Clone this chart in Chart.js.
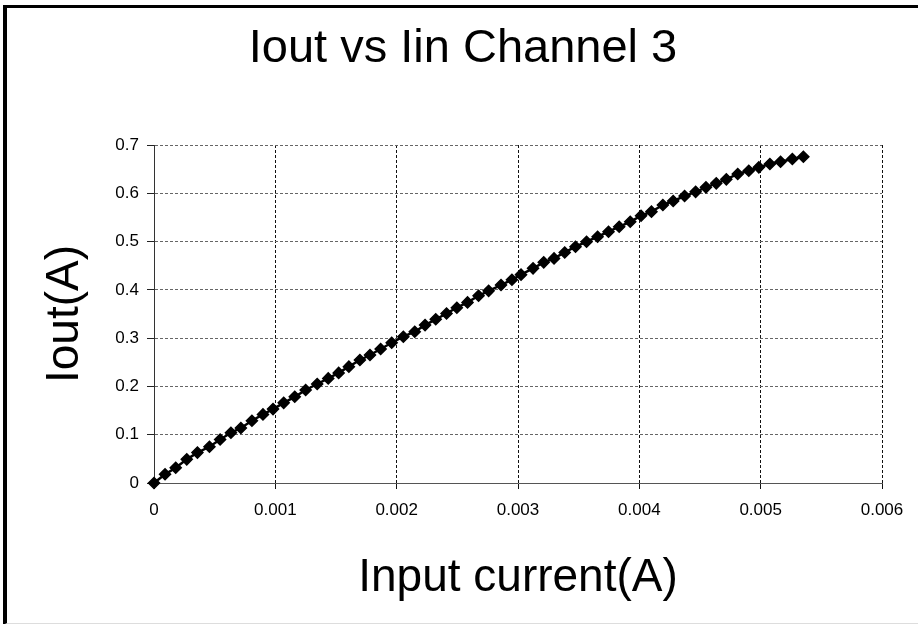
<!DOCTYPE html>
<html>
<head>
<meta charset="utf-8">
<script src="https://cdn.jsdelivr.net/npm/chart.js@4.4.1/dist/chart.umd.min.js"></script>
<style>
  html, body { margin: 0; padding: 0; background: #fff; overflow: hidden; }
  #frame {
    position: absolute; left: 3px; top: 5px; width: 940px; height: 615px;
    border-top: 3px solid #000; border-left: 4px solid #000; border-bottom: 2px solid #ddd;
    pointer-events: none;
  }
  #chart { position: absolute; left: 0; top: 0; }
</style>
</head>
<body>
<canvas id="chart" width="918" height="624"></canvas>
<div id="frame"></div>
<script>
// input current (A)
const inputCurrent = [
  0, 0.000091, 0.000179, 0.00027, 0.000358, 0.000457, 0.000545, 0.000634, 0.000716, 0.000807,
  0.000898, 0.000981, 0.001069, 0.00116, 0.00125, 0.001345, 0.001436, 0.001522, 0.001606, 0.001697,
  0.00178, 0.001868, 0.001959, 0.002055, 0.002149, 0.002234, 0.002322, 0.002411, 0.002496, 0.002584,
  0.002675, 0.002758, 0.00286, 0.00295, 0.003025, 0.003124, 0.003212, 0.003297, 0.003385, 0.003474,
  0.003565, 0.003656, 0.003746, 0.003834, 0.003925, 0.004014, 0.0041, 0.004194, 0.004279, 0.004373,
  0.004464, 0.004549, 0.004634, 0.004717, 0.004811, 0.004902, 0.004985, 0.005076, 0.005164, 0.005261,
  0.005352
];
// output current (A)
const outputCurrent = [
  0, 0.018, 0.0315, 0.049, 0.063, 0.075, 0.09, 0.104, 0.114, 0.129,
  0.142, 0.153, 0.166, 0.1785, 0.1926, 0.205, 0.2166, 0.228, 0.2409, 0.2547,
  0.2651, 0.2775, 0.2905, 0.303, 0.3133, 0.327, 0.339, 0.351, 0.363, 0.374,
  0.3877, 0.398, 0.41, 0.421, 0.4315, 0.4446, 0.457, 0.4651, 0.4775, 0.4893,
  0.4997, 0.51, 0.5204, 0.5308, 0.541, 0.5535, 0.562, 0.5757, 0.584, 0.5943,
  0.603, 0.6123, 0.6206, 0.6289, 0.64, 0.6467, 0.6537, 0.6606, 0.6654, 0.671,
  0.6757
];
const xTicks = [0, 0.001, 0.002, 0.003, 0.004, 0.005, 0.006];
const yTicks = [0, 0.1, 0.2, 0.3, 0.4, 0.5, 0.6, 0.7];

const fontFamily = "'Liberation Sans', Arial, sans-serif";
const fmt = (v) => String(Math.round(v * 1000) / 1000);

const points = inputCurrent.map((x, i) => ({ x: x, y: outputCurrent[i] }));

new Chart(document.getElementById("chart"), {
  type: "scatter",
  data: {
    datasets: [
      {
        data: points,
        showLine: true,
        clip: false,
        borderColor: "#000",
        borderWidth: 2.5,
        pointStyle: "rectRot",
        pointRadius: 5.5,
        pointBackgroundColor: "#000",
        pointBorderColor: "#000",
        pointBorderWidth: 1.5,
      },
    ],
  },
  options: {
    responsive: false,
    animation: false,
    layout: { padding: { left: 8, right: 0, top: 0, bottom: 0 } },
    plugins: {
      legend: { display: false },
      tooltip: { enabled: false },
      title: {
        display: true,
        text: "Iout vs Iin Channel 3",
        color: "#000",
        font: { family: fontFamily, size: 47, weight: "normal" },
        padding: { top: 21, bottom: 67.6 },
      },
    },
    scales: {
      x: {
        type: "linear",
        min: 0,
        max: 0.006,
        afterBuildTicks: (axis) => { axis.ticks = xTicks.map((v) => ({ value: v })); },
        afterFit: (axis) => { axis.height = 141; },
        ticks: {
          color: "#000",
          font: { family: fontFamily, size: 17 },
          padding: 11,
          maxRotation: 0,
          callback: (v) => fmt(v),
        },
        grid: {
          color: "#111",
          tickLength: 6,
          tickColor: "#111",
        },
        border: { display: true, color: "#555", width: 1, dash: [3, 2] },
        title: {
          display: true,
          text: "Input current(A)",
          color: "#000",
          font: { family: fontFamily, size: 46, weight: "normal" },
          padding: { top: 0, bottom: 18 },
        },
      },
      y: {
        type: "linear",
        min: 0,
        max: 0.7,
        afterBuildTicks: (axis) => { axis.ticks = yTicks.map((v) => ({ value: v })); },
        afterFit: (axis) => { axis.width = 146; },
        ticks: {
          color: "#000",
          font: { family: fontFamily, size: 17 },
          padding: 8,
          callback: (v) => fmt(v),
        },
        grid: {
          color: "#666",
          tickLength: 7,
          tickColor: "#222",
          tickBorderDash: [],
        },
        border: { display: true, color: "#333", width: 1, dash: [3, 2] },
        title: {
          display: true,
          text: "Iout(A)",
          color: "#000",
          font: { family: fontFamily, size: 46, weight: "normal" },
          padding: { top: 30, bottom: 0 },
        },
      },
      // empty right-hand space, keeps the plot area off the right edge
      spacer: {
        type: "linear",
        position: "right",
        display: true,
        afterFit: (axis) => { axis.width = 36; },
        ticks: { display: false },
        grid: { display: false },
        border: { display: false },
      },
    },
  },
});
</script>
</body>
</html>
